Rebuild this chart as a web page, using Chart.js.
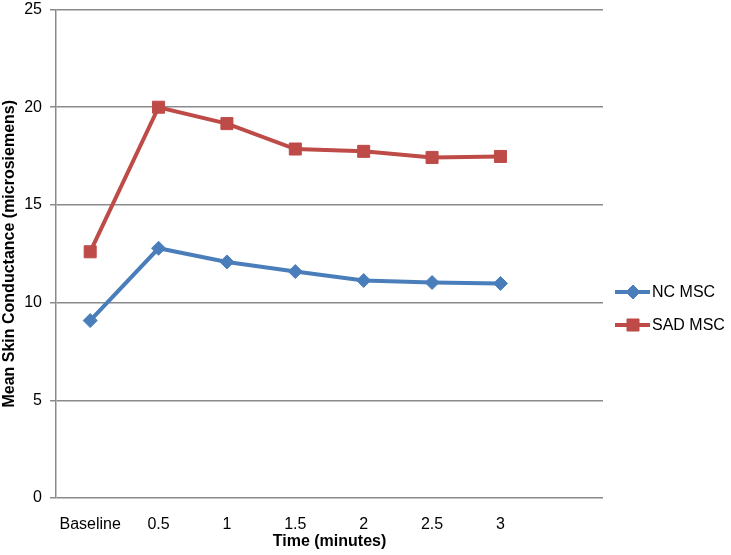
<!DOCTYPE html>
<html>
<head>
<meta charset="utf-8">
<script src="https://cdn.jsdelivr.net/npm/chart.js@4/dist/chart.umd.min.js"></script>
<style>
  html, body { margin: 0; padding: 0; background: #fff; }
  #wrap { width: 731px; height: 555px; position: relative; }
</style>
</head>
<body>
<div id="wrap"><canvas id="grafico"></canvas></div>
<script>
// Categorias e séries
const tempos = ['Baseline', '0.5', '1', '1.5', '2', '2.5', '3', ''];
const ncMsc = [9.08, 12.78, 12.08, 11.59, 11.13, 11.03, 10.98];
const sadMsc = [12.6, 20.0, 19.16, 17.86, 17.74, 17.43, 17.48];
const yTicks = [0, 5, 10, 15, 20, 25];

const corNC = '#4a7ebb';
const corSAD = '#be4b48';
const fonte = 'Liberation Sans, Arial, sans-serif';

// legenda desenhada à direita (linha + marcador)
const legendaLateral = {
  id: 'legendaLateral',
  afterDraw(chart) {
    const ctx = chart.ctx;
    const itens = chart.data.datasets;
    ctx.save();
    itens.forEach((ds, i) => {
      const y = 292 + i * 33;
      ctx.strokeStyle = ds.borderColor;
      ctx.lineWidth = 4;
      ctx.beginPath();
      ctx.moveTo(615, y);
      ctx.lineTo(650, y);
      ctx.stroke();
      ctx.fillStyle = ds.backgroundColor;
      ctx.lineWidth = 1;
      Chart.helpers.drawPoint(ctx, {
        pointStyle: ds.pointStyle,
        radius: ds.pointRadius,
        borderWidth: 1
      }, 633, y);
      ctx.fillStyle = '#000';
      ctx.font = '16px ' + fonte;
      ctx.textBaseline = 'middle';
      ctx.fillText(ds.label, 652, y + 1);
    });
    ctx.restore();
  }
};

const ctx = document.getElementById('grafico');
new Chart(ctx, {
  type: 'line',
  data: {
    labels: tempos,
    datasets: [{
      label: 'NC MSC',
      data: ncMsc,
      borderColor: corNC,
      backgroundColor: corNC,
      borderWidth: 4,
      pointStyle: 'rectRot',
      pointRadius: 7,
      pointHoverRadius: 7,
      pointBorderWidth: 1,
      tension: 0
    }, {
      label: 'SAD MSC',
      data: sadMsc,
      borderColor: corSAD,
      backgroundColor: corSAD,
      borderWidth: 4,
      pointStyle: 'rect',
      pointRadius: 8.5,
      pointHoverRadius: 8.5,
      pointBorderWidth: 1,
      tension: 0
    }]
  },
  plugins: [legendaLateral],
  options: {
    responsive: true,
    maintainAspectRatio: false,
    animation: false,
    layout: { padding: { top: 9.5, right: 128, left: 0, bottom: 0 } },
    plugins: {
      legend: { display: false },
      tooltip: { enabled: false }
    },
    scales: {
      y: {
        min: 0,
        max: 25,
        afterBuildTicks: (s) => { s.ticks = yTicks.map(v => ({ value: v })); },
        afterFit: (s) => {
          s.width = 56;
          s.paddingTop = 0;
          s.paddingBottom = 0;
        },
        ticks: {
          color: '#000',
          padding: 8,
          font: { family: fonte, size: 16 }
        },
        grid: {
          color: '#8a8a8a',
          lineWidth: 1.5,
          tickLength: 6
        },
        border: { color: '#8a8a8a', width: 1.5 },
        title: {
          display: true,
          text: 'Mean Skin Conductance (microsiemens)',
          color: '#000',
          padding: { top: 0, bottom: 0 },
          font: { family: fonte, size: 16, weight: 'bold' }
        }
      },
      x: {
        offset: true,
        afterFit: (s) => { s.height = 57; },
        ticks: {
          color: '#000',
          padding: 9,
          maxRotation: 0,
          autoSkip: false,
          font: { family: fonte, size: 16 }
        },
        grid: { display: false },
        border: { display: false },
        title: {
          display: true,
          text: 'Time (minutes)',
          color: '#000',
          padding: { top: 2 },
          font: { family: fonte, size: 16, weight: 'bold' }
        }
      }
    }
  }
});
</script>
</body>
</html>
